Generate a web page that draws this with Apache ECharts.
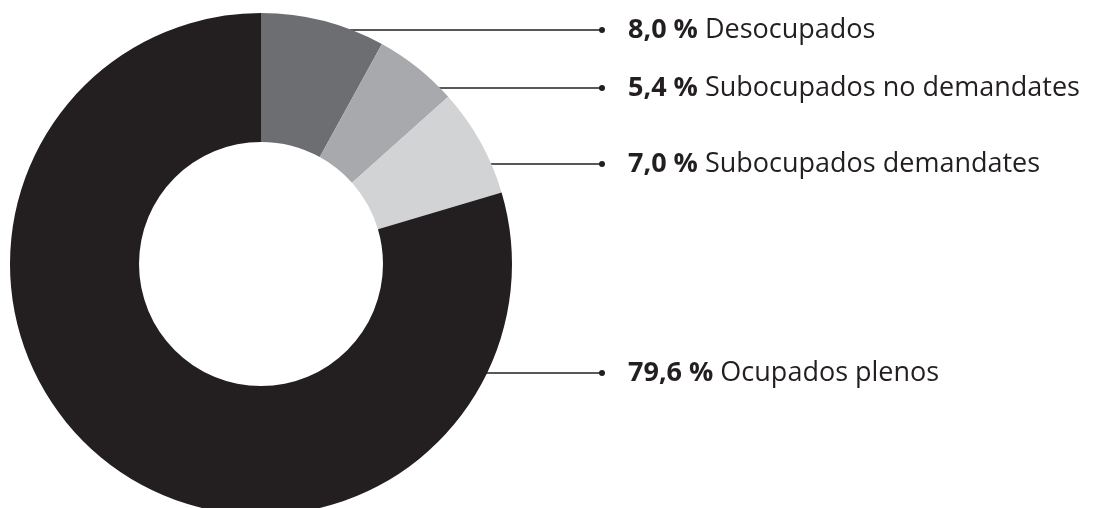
<!DOCTYPE html>
<html>
<head>
<meta charset="utf-8">
<script src="https://cdn.jsdelivr.net/npm/echarts@6/dist/echarts.min.js"></script>
<style>
html,body{margin:0;padding:0;background:#fff;}
#c{width:1095px;height:508px;}
</style>
</head>
<body>
<div id="c"></div>
<script>
const categories = ["Desocupados", "Subocupados no demandates", "Subocupados demandates", "Ocupados plenos"];
const values = [8.0, 5.4, 7.0, 79.6];
const colors = ["#6d6e71", "#a7a9ac", "#d1d3d4", "#231f20"];

const CX = 261, CY = 264, R_OUT = 251, R_IN = 122;
const rowY = [30, 88, 164, 373];
const DOT_X = 599;

const fmt = v => v.toFixed(1).replace('.', ',') + ' %';

const chart = echarts.init(document.getElementById('c'), null, {renderer: 'canvas'});
chart.setOption({
  animation: false,
  series: [{
    type: 'pie',
    center: [CX, CY],
    radius: [R_IN, R_OUT],
    startAngle: 90,
    clockwise: true,
    avoidLabelOverlap: false,
    data: categories.map((n, i) => ({name: n, value: values[i], itemStyle: {color: colors[i]}})),
    label: {
      show: true,
      position: 'outside',
      formatter: p => '{d|}{s|}{v|' + fmt(p.value) + '}{n| ' + p.name + '}',
      rich: {
        d: {width: 6, height: 6, borderRadius: 3, backgroundColor: '#231f20'},
        s: {width: 23, height: 6},
        v: {fontFamily: 'Open Sans', fontWeight: 'bold', fontSize: 27, color: '#231f20'},
        n: {fontFamily: 'Open Sans', fontSize: 27, color: '#231f20'}
      }
    },
    labelLine: {show: true, lineStyle: {color: '#231f20', width: 1.5}},
    labelLayout: function (params) {
      const i = params.dataIndex;
      const y = rowY[i];
      const dy = y - CY;
      const ex = CX + Math.sqrt(R_OUT * R_OUT - dy * dy);
      return {
        x: DOT_X,
        y: y,
        align: 'left',
        verticalAlign: 'middle',
        labelLinePoints: [[ex - 2, y], [DOT_X + 3, y], [DOT_X + 3, y]]
      };
    },
    emphasis: {disabled: true}
  }]
});
</script>
</body>
</html>
